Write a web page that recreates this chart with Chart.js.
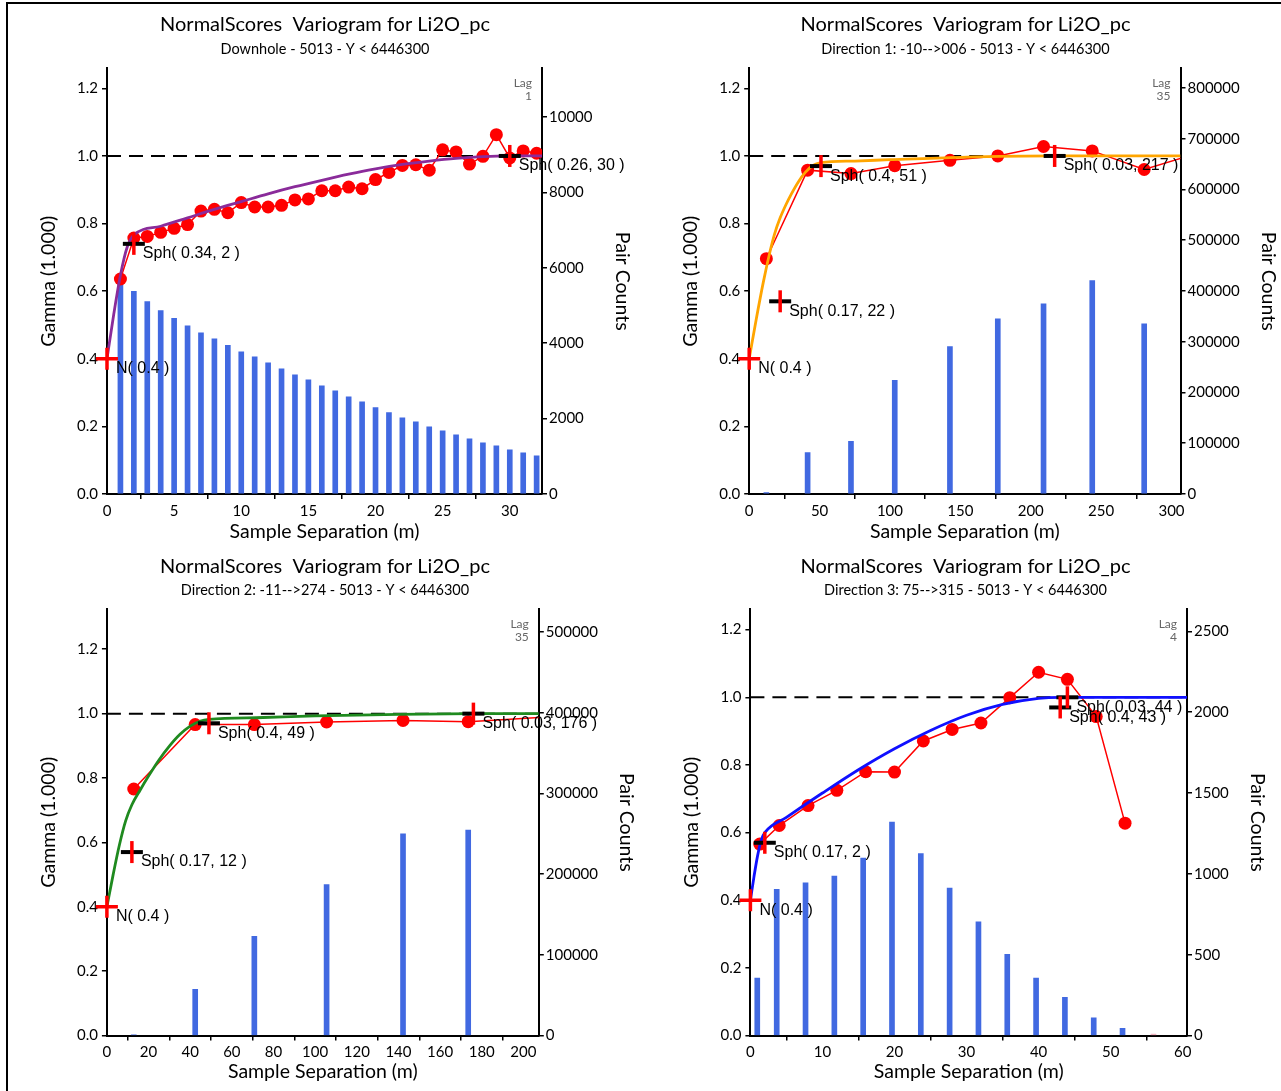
<!DOCTYPE html>
<html>
<head>
<meta charset="utf-8">
<title>NormalScores Variograms for Li2O_pc</title>
<script src="https://cdn.jsdelivr.net/npm/chart.js@4.4.1/dist/chart.umd.min.js"></script>
<style>
    html, body { margin: 0; padding: 0; background: #fff; }
    body { width: 1281px; height: 1091px; position: relative; overflow: hidden; }
    .frame { position: absolute; left: 6px; top: 2px; right: 0; bottom: 0;
             border-top: 2px solid #000; border-left: 2px solid #000; }
    .panel { position: absolute; }
</style>
</head>
<body>
<div class="frame"></div>
<div class="panel" style="left:10px;top:5px;width:630px;height:540px"><canvas id="dhChart"></canvas></div>
<div class="panel" style="left:650px;top:5px;width:631px;height:540px"><canvas id="d1Chart"></canvas></div>
<div class="panel" style="left:10px;top:548px;width:630px;height:543px"><canvas id="d2Chart"></canvas></div>
<div class="panel" style="left:650px;top:548px;width:631px;height:543px"><canvas id="d3Chart"></canvas></div>

<script>
// Shared text and ticks
const MAIN_TITLE = 'NormalScores  Variogram for Li2O_pc';
const NUGGET = 0.4;
const NUGGET_TEXT = 'N( 0.4 )';
const GAMMA_TICKS = [0, 0.2, 0.4, 0.6, 0.8, 1.0, 1.2];

// Downhole - top left
const dhLag = [1, 2, 3, 4, 5, 6, 7, 8, 9, 10, 11, 12, 13, 14, 15, 16,
               17, 18, 19, 20, 21, 22, 23, 24, 25, 26, 27, 28, 29, 30, 31, 32];
const dhGamma = [0.636, 0.757, 0.762, 0.774, 0.786, 0.797, 0.837, 0.842, 0.832, 0.862, 0.849, 0.849, 0.854, 0.870, 0.873, 0.897,
                 0.897, 0.908, 0.903, 0.930, 0.951, 0.972, 0.974, 0.958, 1.018, 1.012, 0.976, 0.999, 1.063, 0.994, 1.015, 1.008];
const dhPairs = [5750, 5376, 5102, 4863, 4659, 4464, 4278, 4119, 3942, 3773, 3640, 3481, 3322, 3162, 3029, 2870,
                 2737, 2577, 2445, 2294, 2161, 2020, 1913, 1780, 1674, 1568, 1461, 1355, 1275, 1169, 1089, 1010];
const dhModelX = [0, 0.5, 1, 1.5, 2, 4, 6, 8, 10, 12, 14, 16, 18, 20, 22, 24, 26, 28, 30, 32.4];
const dhModelY = [0.4, 0.531, 0.647, 0.730, 0.766, 0.792, 0.817, 0.842, 0.865, 0.888, 0.909, 0.928, 0.946, 0.962, 0.975, 0.985, 0.993, 0.998, 1.0, 1.0];
const dhStructX = [2, 30];
const dhStructY = [0.74, 1.0];
const dhStructText = ['Sph( 0.34, 2 )', 'Sph( 0.26, 30 )'];
const dhSepTicks = [0, 5, 10, 15, 20, 25, 30];
const dhPairTicks = [0, 2000, 4000, 6000, 8000, 10000];

// Direction 1 - top right
const d1Lag = [12.2, 41.5, 72.3, 103.4, 142.6, 176.6, 209.1, 243.7, 280.6, 316];
const d1Gamma = [0.696, 0.958, 0.948, 0.971, 0.987, 1.000, 1.028, 1.015, 0.960, 1.005];
const d1Pairs = [3000, 81400, 104000, 223800, 290200, 345000, 374400, 420300, 335400, 0];
const d1ModelX = [0, 5, 10, 15, 18, 22, 26, 30, 35, 40, 45, 51, 75, 100, 150, 217, 306.4];
const d1ModelY = [0.4, 0.517, 0.626, 0.721, 0.769, 0.817, 0.855, 0.888, 0.924, 0.952, 0.971, 0.980, 0.985, 0.989, 0.996, 1.0, 1.0];
const d1StructX = [22, 51, 217];
const d1StructY = [0.57, 0.97, 1.0];
const d1StructText = ['Sph( 0.17, 22 )', 'Sph( 0.4, 51 )', 'Sph( 0.03, 217 )'];
const d1SepTicks = [0, 50, 100, 150, 200, 250, 300];
const d1PairTicks = [0, 100000, 200000, 300000, 400000, 500000, 600000, 700000, 800000];

// Direction 2 - bottom left
const d2Lag = [12.9, 42.4, 70.8, 105.5, 142.2, 173.5, 212];
const d2Gamma = [0.766, 0.966, 0.966, 0.974, 0.979, 0.975, 0.990];
const d2Pairs = [1000, 57400, 123100, 187000, 250000, 254700, 0];
const d2ModelX = [0, 3, 6, 9, 12, 16, 20, 25, 30, 35, 40, 45, 49, 75, 100, 140, 176, 207.4];
const d2ModelY = [0.4, 0.500, 0.592, 0.667, 0.717, 0.763, 0.806, 0.856, 0.899, 0.935, 0.961, 0.977, 0.982, 0.988, 0.993, 0.998, 1.0, 1.0];
const d2StructX = [12, 49, 176];
const d2StructY = [0.57, 0.97, 1.0];
const d2StructText = ['Sph( 0.17, 12 )', 'Sph( 0.4, 49 )', 'Sph( 0.03, 176 )'];
const d2SepTicks = [0, 20, 40, 60, 80, 100, 120, 140, 160, 180, 200];
const d2PairTicks = [0, 100000, 200000, 300000, 400000, 500000];

// Direction 3 - bottom right
const d3Lag = [1.3, 4, 8, 12, 16, 20, 24, 28, 32, 36, 40, 44, 48, 52];
const d3Gamma = [0.566, 0.621, 0.680, 0.725, 0.780, 0.779, 0.871, 0.905, 0.924, 0.999, 1.074, 1.053, 0.943, 0.628];
const d3Pairs = [356, 905, 944, 987, 1097, 1321, 1125, 912, 703, 502, 356, 237, 110, 45];
const d3ExtraLag = [55.6];
const d3ExtraPairs = [10];
const d3ModelX = [0, 0.5, 1, 1.5, 2, 5, 10, 15, 20, 25, 30, 35, 40, 43, 44, 60.6];
const d3ModelY = [0.4, 0.470, 0.532, 0.578, 0.600, 0.645, 0.717, 0.786, 0.848, 0.902, 0.947, 0.979, 0.997, 1.0, 1.0, 1.0];
const d3StructX = [2, 43, 44];
const d3StructY = [0.57, 0.97, 1.0];
const d3StructText = ['Sph( 0.17, 2 )', 'Sph( 0.4, 43 )', 'Sph( 0.03, 44 )'];
const d3SepTicks = [0, 10, 20, 30, 40, 50, 60];
const d3PairTicks = [0, 500, 1000, 1500, 2000, 2500];

Chart.defaults.font.family = 'Lato, "Open Sans", sans-serif';
Chart.defaults.color = '#000';

// Draws the structure labels and the "Lag n" note
const noteLabels = {
    id: 'noteLabels',
    afterDatasetsDraw(chart, args, opts) {
        const { ctx, chartArea, scales } = chart;
        ctx.save();
        ctx.fillStyle = '#000';
        ctx.font = '16px "Liberation Sans", Arial, sans-serif';
        ctx.textAlign = 'left';
        ctx.textBaseline = 'middle';
        opts.items.forEach(function(it) {
            const px = scales.x.getPixelForValue(it.x);
            const py = scales.y.getPixelForValue(it.y);
            ctx.fillText(it.text, px + 9, py + 10);
        });
        ctx.fillStyle = '#666';
        ctx.font = '12px Lato, sans-serif';
        ctx.textAlign = 'right';
        ctx.fillText('Lag', chartArea.right - 10, chartArea.top + 15);
        ctx.fillText(opts.lag, chartArea.right - 10, chartArea.top + 28);
        ctx.restore();
    }
};

function toPoints(xs, ys) {
    return xs.map(function(x, i) { return { x: x, y: ys[i] }; });
}

// fixed tick positions, taken from the tick arrays above
function useTicks(values) {
    return function(scale) {
        scale.ticks = values.map(function(v) { return { value: v }; });
    };
}

function axisStyle() {
    return {
        grid: { drawOnChartArea: false, drawTicks: true, tickLength: 5, color: '#000', lineWidth: 1.5 },
        border: { display: true, color: '#000', width: 2 }
    };
}

function makePanel(id, p) {
    const ctx = document.getElementById(id).getContext('2d');
    const items = [{ x: 0, y: NUGGET, text: NUGGET_TEXT }].concat(
        p.structX.map(function(x, i) { return { x: x, y: p.structY[i], text: p.structText[i] }; })
    );

    const datasets = [
        // red verticals of the structure markers
        { type: 'line', showLine: false, data: toPoints(p.structX, p.structY), pointStyle: 'line', pointRotation: 90,
          pointRadius: 11, pointBorderWidth: 3.5, pointBorderColor: '#ff0000', clip: false, order: 0 },
        // nugget cross
        { type: 'line', showLine: false, data: [{ x: 0, y: NUGGET }], pointStyle: 'cross',
          pointRadius: 11, pointBorderWidth: 3.5, pointBorderColor: '#ff0000', clip: false, order: 0 },
        // black sill bars
        { type: 'line', showLine: false, data: toPoints(p.structX, p.structY), pointStyle: 'line',
          pointRadius: 11, pointBorderWidth: 4, pointBorderColor: '#000', clip: false, order: 1 },
        // fitted model
        { type: 'line', data: toPoints(p.modelX, p.modelY), borderColor: p.modelColor, borderWidth: 2.8,
          pointRadius: 0, cubicInterpolationMode: 'monotone', order: 2 },
        // experimental variogram
        { type: 'line', data: toPoints(p.lag, p.gamma), borderColor: '#ff0000', borderWidth: 1.5,
          pointRadius: 6.5, pointBackgroundColor: '#ff0000', pointBorderWidth: 0, order: 3 },
        // sill
        { type: 'line', data: [{ x: 0, y: 1 }, { x: p.xMax, y: 1 }], borderColor: '#000', borderWidth: 2,
          borderDash: [14, 8], pointRadius: 0, order: 4 },
        // pair counts
        { type: 'bar', data: toPoints(p.lag, p.pairs), backgroundColor: '#4169e1', barThickness: 5,
          yAxisID: 'y2', order: 5 }
    ];
    if (p.extraLag) {
        datasets.push({ type: 'bar', data: toPoints(p.extraLag, p.extraPairs), backgroundColor: '#f4b6c2',
                        barThickness: 5, yAxisID: 'y2', order: 5 });
    }

    return new Chart(ctx, {
        type: 'bar',
        data: { datasets: datasets },
        plugins: [noteLabels],
        options: {
            responsive: true,
            maintainAspectRatio: false,
            animation: false,
            events: [],
            layout: { padding: 0 },
            plugins: {
                legend: { display: false },
                tooltip: { enabled: false },
                title: { display: true, text: MAIN_TITLE, color: '#000',
                         font: { size: 20, weight: 'normal' }, padding: p.titlePad },
                subtitle: { display: true, text: p.subtitle, color: '#000',
                            font: { size: 14.5, weight: 'normal' }, padding: p.subPad },
                noteLabels: { items: items, lag: p.lagNote }
            },
            scales: {
                x: Object.assign(axisStyle(), {
                    type: 'linear', position: 'bottom', offset: false,
                    min: 0, max: p.xMax,
                    afterBuildTicks: useTicks(p.sepTicks),
                    ticks: { padding: 3, font: { size: 15 }, maxRotation: 0, autoSkip: false,
                             callback: function(v) { return String(v); } },
                    title: { display: true, text: 'Sample Separation (m)', font: { size: 19.5 },
                             padding: { top: 0, bottom: p.xTitlePad } },
                    afterFit: function(s) { s.height = p.xHeight; }
                }),
                y: Object.assign(axisStyle(), {
                    type: 'linear', position: 'left',
                    min: 0, max: p.gMax,
                    afterBuildTicks: useTicks(GAMMA_TICKS),
                    ticks: { padding: 4, font: { size: 15 },
                             callback: function(v) { return v.toFixed(1); } },
                    title: { display: true, text: 'Gamma (1.000)', font: { size: 19.5 },
                             padding: { top: p.yTitlePad, bottom: 0 } },
                    afterFit: function(s) { s.width = p.yWidth; }
                }),
                y2: Object.assign(axisStyle(), {
                    type: 'linear', position: 'right',
                    min: 0, max: p.pMax,
                    afterBuildTicks: useTicks(p.pairTicks),
                    ticks: { padding: 2, font: { size: 15 },
                             callback: function(v) { return String(v); } },
                    title: { display: true, text: 'Pair Counts', font: { size: 19.5 },
                             padding: { top: p.y2TitlePad, bottom: 0 } },
                    afterFit: function(s) { s.width = p.y2Width; }
                })
            }
        }
    });
}

document.addEventListener('DOMContentLoaded', function() {
    const topTitlePad = { top: 7.5, bottom: 2 };
    const topSubPad = { top: 2.5, bottom: 10 };
    const lowTitlePad = { top: 6.5, bottom: 1.5 };
    const lowSubPad = { top: 1.8, bottom: 9.8 };

    makePanel('dhChart', {
        lag: dhLag, gamma: dhGamma, pairs: dhPairs, modelX: dhModelX, modelY: dhModelY,
        structX: dhStructX, structY: dhStructY, structText: dhStructText,
        sepTicks: dhSepTicks, pairTicks: dhPairTicks,
        modelColor: '#8a2b9a', subtitle: 'Downhole - 5013 - Y < 6446300', lagNote: '1',
        xMax: 32.4, gMax: 1.259, pMax: 11290,
        yWidth: 97, y2Width: 98, xHeight: 51,
        yTitlePad: 27.3, y2TitlePad: 5.9, xTitlePad: 1.5,
        titlePad: topTitlePad, subPad: topSubPad
    });

    makePanel('d1Chart', {
        lag: d1Lag, gamma: d1Gamma, pairs: d1Pairs, modelX: d1ModelX, modelY: d1ModelY,
        structX: d1StructX, structY: d1StructY, structText: d1StructText,
        sepTicks: d1SepTicks, pairTicks: d1PairTicks,
        modelColor: '#ffa500', subtitle: 'Direction 1: -10-->006 - 5013 - Y < 6446300', lagNote: '35',
        xMax: 306.4, gMax: 1.259, pMax: 838400,
        yWidth: 99.2, y2Width: 100.5, xHeight: 51,
        yTitlePad: 29.3, y2TitlePad: 0.9, xTitlePad: 1.5,
        titlePad: topTitlePad, subPad: topSubPad
    });

    makePanel('d2Chart', {
        lag: d2Lag, gamma: d2Gamma, pairs: d2Pairs, modelX: d2ModelX, modelY: d2ModelY,
        structX: d2StructX, structY: d2StructY, structText: d2StructText,
        sepTicks: d2SepTicks, pairTicks: d2PairTicks,
        modelColor: '#1f8a1f', subtitle: 'Direction 2: -11-->274 - 5013 - Y < 6446300', lagNote: '35',
        xMax: 207.4, gMax: 1.325, pMax: 528600,
        yWidth: 96.9, y2Width: 101.2, xHeight: 55.4,
        yTitlePad: 27.3, y2TitlePad: 1.8, xTitlePad: 7.7,
        titlePad: lowTitlePad, subPad: lowSubPad
    });

    makePanel('d3Chart', {
        lag: d3Lag, gamma: d3Gamma, pairs: d3Pairs, modelX: d3ModelX, modelY: d3ModelY,
        structX: d3StructX, structY: d3StructY, structText: d3StructText,
        extraLag: d3ExtraLag, extraPairs: d3ExtraPairs,
        sepTicks: d3SepTicks, pairTicks: d3PairTicks,
        modelColor: '#1010ff', subtitle: 'Direction 3: 75-->315 - 5013 - Y < 6446300', lagNote: '4',
        xMax: 60.6, gMax: 1.261, pMax: 2638,
        yWidth: 100.4, y2Width: 94, xHeight: 55.4,
        yTitlePad: 30.1, y2TitlePad: 11.7, xTitlePad: 7.7,
        titlePad: lowTitlePad, subPad: lowSubPad
    });
});
</script>
</body>
</html>
